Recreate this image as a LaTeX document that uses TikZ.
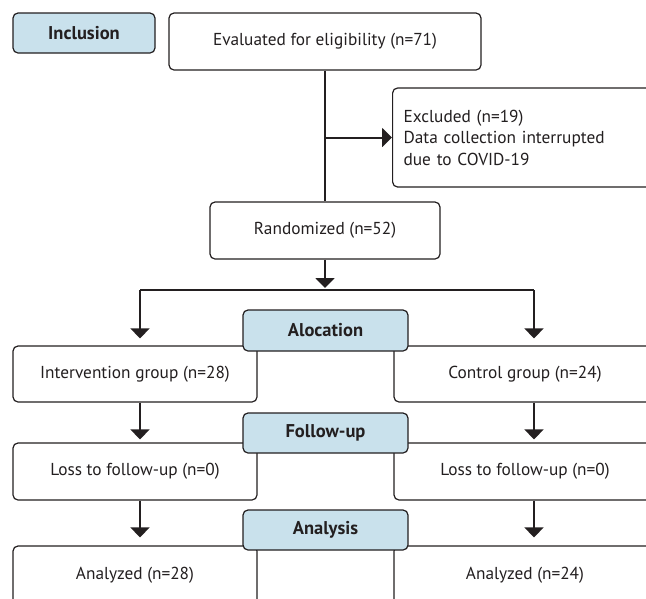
\documentclass[tikz,border=0pt]{standalone}
\usepackage{fontspec}
\setmainfont{PT Sans}
\usetikzlibrary{arrows.meta}

\definecolor{stageblue}{RGB}{201,225,236}
\definecolor{ink}{RGB}{35,31,32}

\begin{document}
\begin{tikzpicture}[x=1pt,y=-1pt,
    box/.style={draw=ink,line width=1.2pt,rounded corners=5pt,fill=white,
      text=ink,font=\fontsize{17.3}{21.5}\selectfont,inner sep=0pt},
    stagebox/.style={box,fill=stageblue,font=\fontsize{18.5}{20}\selectfont\bfseries,
      minimum width=165pt,minimum height=40pt},
    line/.style={draw=ink,line width=2pt},
    arrow/.style={line,-{Triangle[width=19pt,length=10pt]}}]
  \useasboundingbox (0,0) rectangle (646,598);
  \clip (0,0) rectangle (646,598);

  \node [stagebox,minimum width=142pt] (incl) at (84,33) {Inclusion};
  \node [box,minimum width=312pt,minimum height=57pt] (eval) at (325,41.5) {Evaluated for eligibility (n=71)};
  \node [box,anchor=west,minimum height=99pt,text width=242pt,align=left,inner xsep=11pt] (excl) at (392,137.5)
    {Excluded (n=19)\\Data collection interrupted\\due to COVID-19};
  \node [box,minimum width=230pt,minimum height=57pt] (rand) at (325,230.5) {Randomized (n=52)};

  \node [box,minimum width=244pt,minimum height=56pt] (int) at (135,374) {Intervention group (n=28)};
  \node [box,minimum width=262pt,minimum height=56pt] (ctrl) at (525,374) {Control group (n=24)};
  \node [box,minimum width=244pt,minimum height=57pt] (lossA) at (135,471.5) {Loss to follow-up (n=0)};
  \node [box,minimum width=262pt,minimum height=57pt] (lossB) at (525,471.5) {Loss to follow-up (n=0)};
  \node [box,minimum width=244pt,minimum height=58pt] (anaA) at (135,575) {Analyzed (n=28)};
  \node [box,minimum width=262pt,minimum height=58pt] (anaB) at (525,575) {Analyzed (n=24)};

  \node [stagebox,minimum height=41pt] (aloc) at (325.5,330.5) {Alocation};
  \node [stagebox] (fup) at (325.5,433) {Follow-up};
  \node [stagebox] (anls) at (325.5,530) {Analysis};

  \coordinate (branch) at (325,137.5);
  \coordinate (split) at (325,290);
  \coordinate (splitA) at (140,290);
  \coordinate (splitB) at (534,290);

  \draw[line] (eval) -- (rand);
  \draw[arrow] (branch) -- (excl.west);
  \draw[arrow,shorten >=2pt] (rand) -- (split);
  \draw[line] (splitA) -- (splitB);
  \draw[arrow,shorten >=7pt] (splitA) -- (splitA |- int.north);
  \draw[arrow,shorten >=7pt] (splitB) -- (splitB |- ctrl.north);
  \draw[arrow,shorten >=3pt] (splitA |- int.south) -- (splitA |- lossA.north);
  \draw[arrow,shorten >=3pt] (splitB |- ctrl.south) -- (splitB |- lossB.north);
  \draw[arrow,shorten >=8pt] (splitA |- lossA.south) -- (splitA |- anaA.north);
  \draw[arrow,shorten >=8pt] (splitB |- lossB.south) -- (splitB |- anaB.north);
\end{tikzpicture}
\end{document}
